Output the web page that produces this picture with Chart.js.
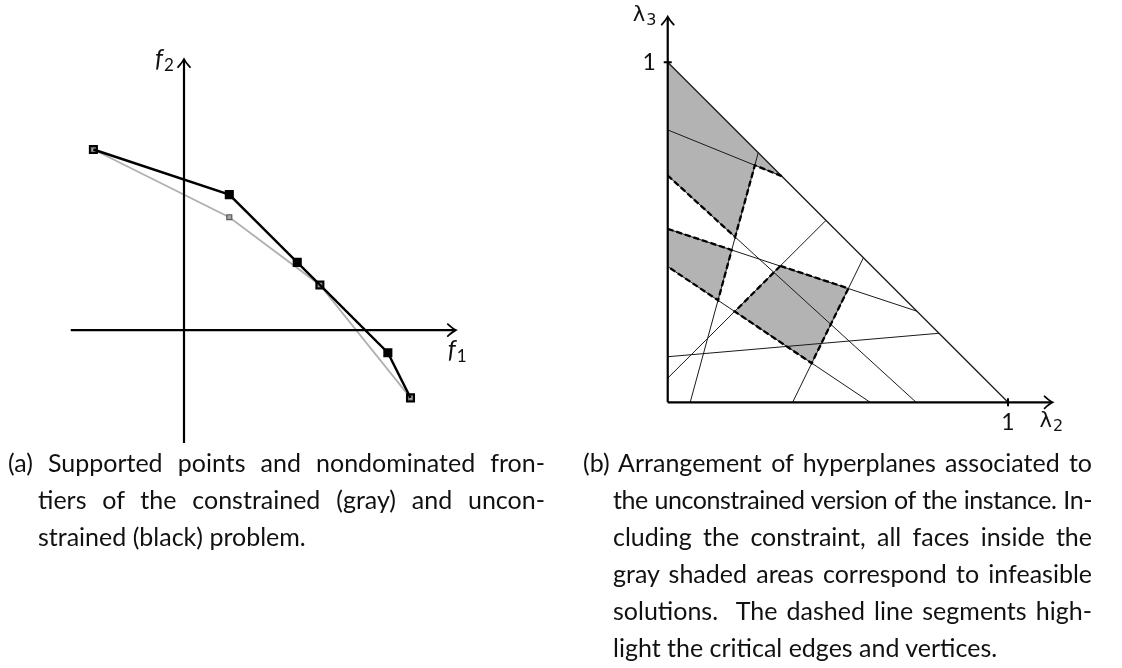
<!DOCTYPE html>
<html>
<head>
<meta charset="utf-8">
<script src="https://cdn.jsdelivr.net/npm/chart.js@4.4.1/dist/chart.umd.min.js"></script>
<style>
  html, body { margin: 0; padding: 0; background: #fff; }
  body { width: 1122px; height: 668px; position: relative; overflow: hidden; font-family: Lato, "Open Sans", sans-serif; color: #111; }
  canvas { position: absolute; top: 0; }
  #frontier { left: 0; }
  #arrangement { left: 561px; }
  .caption { position: absolute; top: 444px; font-size: 25px; line-height: 37px; }
  .caption div { text-align: justify; text-align-last: justify; }
  .caption div.last { text-align: left; text-align-last: left; }
  .caption div.tight { letter-spacing: -0.45px; word-spacing: -1px; }
  #capA { left: 8px; width: 537px; }
  #capB { left: 583px; width: 509px; }
  .caption div.rest { margin-left: 30px; }
</style>
</head>
<body>
<canvas id="frontier" width="561" height="450"></canvas>
<canvas id="arrangement" width="561" height="450"></canvas>

<div class="caption" id="capA">
  <div>(a) Supported points and nondominated fron-</div>
  <div class="rest">tiers of the constrained (gray) and uncon-</div>
  <div class="rest last">strained (black) problem.</div>
</div>
<div class="caption" id="capB">
  <div>(b) Arrangement of hyperplanes associated to</div>
  <div class="rest tight">the unconstrained version of the instance. In-</div>
  <div class="rest">cluding the constraint, all faces inside the</div>
  <div class="rest">gray shaded areas correspond to infeasible</div>
  <div class="rest">solutions. &nbsp;The dashed line segments high-</div>
  <div class="rest last">light the critical edges and vertices.</div>
</div>

<script>
// supported points of the unconstrained problem (black)
const unconF1 = [-2, 1, 2.5, 3, 4.5, 5];
const unconF2 = [4, 3, 1.5, 1, -0.5, -1.5];
// points that are also supported for the constrained problem
const sharedPoint = [true, false, false, true, false, true];
// supported points of the constrained problem (gray)
const consF1 = [-2, 1, 3, 5];
const consF2 = [4, 2.5, 1, -1.5];

// hyperplanes in the (lambda2, lambda3) simplex, clipped to the triangle
const hyperplanes = [
  [[0, 0.801], [0.335, 0.665]],
  [[0.266, 0.734], [0.066, 0]],
  [[0, 0.667], [0.730, 0]],
  [[0, 0.399], [0.595, 0]],
  [[0, 0.510], [0.732, 0.268]],
  [[0, 0.134], [0.797, 0.203]],
  [[0, 0.071], [0.465, 0.535]],
  [[0.367, 0], [0.575, 0.425]]
];
const simplexEdge = [[0, 1], [1, 0]];
const infeasibleFaces = [
  [[0, 1], [0.335, 0.665], [0.256, 0.697], [0.198, 0.486], [0, 0.667]],
  [[0, 0.510], [0.188, 0.448], [0.148, 0.300], [0, 0.399]],
  [[0.331, 0.401], [0.531, 0.335], [0.423, 0.115], [0.197, 0.267]]
];
const criticalEdges = [
  [[0.335, 0.665], [0.256, 0.697], [0.198, 0.486], [0, 0.667]],
  [[0, 0.510], [0.188, 0.448], [0.148, 0.300], [0, 0.399]],
  [[0.331, 0.401], [0.531, 0.335], [0.423, 0.115], [0.197, 0.267], [0.331, 0.401]]
];

const toPts = arr => arr.map(([x, y]) => ({ x, y }));
const zip = (xs, ys) => xs.map((x, i) => ({ x, y: ys[i] }));

function arrowHead(ctx, tx, ty, dx, dy) {
  // tikz-like open arrow tip pointing along (dx, dy)
  const nx = -dy, ny = dx;
  ctx.beginPath();
  ctx.moveTo(tx - 8 * dx + 6 * nx, ty - 8 * dy + 6 * ny);
  ctx.quadraticCurveTo(tx - 3 * dx + 1.5 * nx, ty - 3 * dy + 1.5 * ny, tx, ty);
  ctx.quadraticCurveTo(tx - 3 * dx - 1.5 * nx, ty - 3 * dy - 1.5 * ny, tx - 8 * dx - 6 * nx, ty - 8 * dy - 6 * ny);
  ctx.stroke();
}

function subLabel(ctx, main, sub, x, y, mainFont, subFont, drop) {
  ctx.textAlign = 'left';
  ctx.textBaseline = 'alphabetic';
  ctx.font = mainFont;
  ctx.fillText(main, x, y);
  const w = ctx.measureText(main).width;
  ctx.font = subFont;
  ctx.fillText(sub, x + w + 1, y + drop);
}

// axes through the origin with arrow tips, optional unit ticks and labels
const axisArrows = {
  id: 'axisArrows',
  afterDatasetsDraw(chart, args, opts) {
    const { ctx, scales: { x, y } } = chart;
    const ox = x.getPixelForValue(0), oy = y.getPixelForValue(0);
    const xs = x.getPixelForValue(opts.start), xe = x.getPixelForValue(x.max);
    const ys = y.getPixelForValue(opts.start), ye = y.getPixelForValue(y.max);
    ctx.save();
    ctx.strokeStyle = '#000';
    ctx.fillStyle = '#111';
    ctx.lineWidth = opts.width;
    ctx.lineCap = 'butt';
    ctx.beginPath();
    ctx.moveTo(xs, oy); ctx.lineTo(xe - 1, oy);
    ctx.moveTo(ox, ys); ctx.lineTo(ox, ye + 1);
    ctx.stroke();
    ctx.lineWidth = 1.8;
    ctx.lineCap = 'round';
    arrowHead(ctx, xe, oy, 1, 0);
    arrowHead(ctx, ox, ye, 0, -1);
    if (opts.unitTicks) {
      const tx = x.getPixelForValue(1), ty = y.getPixelForValue(1);
      ctx.lineWidth = 2;
      ctx.lineCap = 'butt';
      ctx.beginPath();
      ctx.moveTo(ox - 4, ty); ctx.lineTo(ox + 4, ty);
      ctx.moveTo(tx, oy - 4); ctx.lineTo(tx, oy + 4);
      ctx.stroke();
      ctx.font = '23px Lato, sans-serif';
      ctx.textAlign = 'right';
      ctx.fillText('1', ox - 12, ty + 8);
      ctx.textAlign = 'center';
      ctx.fillText('1', tx, oy + 28);
    }
    const L = opts.labels;
    subLabel(ctx, L.x[0], L.x[1], xe + L.xOff[0], oy + L.xOff[1], L.mainFont, L.subFont, 4);
    subLabel(ctx, L.y[0], L.y[1], ox + L.yOff[0], ye + L.yOff[1], L.mainFont, L.subFont, 4);
    ctx.restore();
  }
};

const baseOptions = (xr, yr, padding, axisOpts) => ({
  responsive: false,
  animation: false,
  events: [],
  layout: { padding },
  scales: {
    x: { type: 'linear', min: xr[0], max: xr[1], display: false },
    y: { type: 'linear', min: yr[0], max: yr[1], display: false }
  },
  plugins: {
    legend: { display: false },
    tooltip: { enabled: false },
    axisArrows: axisOpts
  }
});

new Chart(document.getElementById('frontier'), {
  type: 'line',
  data: {
    datasets: [
      {
        data: zip(unconF1, unconF2),
        borderColor: '#000',
        borderWidth: 2.4,
        pointStyle: 'rect',
        pointRadius: 5,
        pointBorderWidth: 2,
        pointBorderColor: '#000',
        pointBackgroundColor: sharedPoint.map(s => s ? 'rgba(0,0,0,0)' : '#000'),
        order: 0
      },
      {
        data: zip(consF1, consF2),
        borderColor: '#b0b0b0',
        borderWidth: 1.8,
        pointStyle: 'rect',
        pointRadius: 3.5,
        pointBorderWidth: 1.2,
        pointBorderColor: '#5a5a5a',
        pointBackgroundColor: '#a6a6a6',
        order: 1
      }
    ]
  },
  options: Object.assign(
    baseOptions([-2.5, 6], [-2.5, 6], { left: 70.75, right: 105.2, top: 59.2, bottom: 5.8 }, {
      start: -2.5, width: 2.2, unitTicks: false,
      labels: {
        x: ['f', '1'], y: ['f', '2'],
        xOff: [-8, 28], yOff: [-29, 8],
        mainFont: 'italic 25px Lato, sans-serif', subFont: '17px Lato, sans-serif'
      }
    }),
    { elements: { line: { tension: 0 } } }
  ),
  plugins: [axisArrows]
});

const arrangementSets = [];
criticalEdges.forEach(p => arrangementSets.push({
  data: toPts(p), borderColor: '#000', borderWidth: 2.3, borderDash: [6, 3],
  pointRadius: 0, fill: false, order: 0
}));
hyperplanes.concat([simplexEdge]).forEach((p, i) => arrangementSets.push({
  data: toPts(p), borderColor: '#1a1a1a', borderWidth: i === hyperplanes.length ? 1.3 : 1,
  pointRadius: 0, fill: false, order: 1
}));
infeasibleFaces.forEach(p => arrangementSets.push({
  data: toPts(p.concat([p[0]])), borderColor: 'rgba(0,0,0,0)', borderWidth: 0,
  backgroundColor: '#b3b3b3', pointRadius: 0, fill: 'shape', order: 2
}));

new Chart(document.getElementById('arrangement'), {
  type: 'line',
  data: { datasets: arrangementSets },
  options: baseOptions([-0.1, 1.131], [-0.1, 1.134], { left: 72.7, right: 69.4, top: 16.7, bottom: 13.7 }, {
    start: 0, width: 2.2, unitTicks: true,
    labels: {
      x: ['\u03bb', '2'], y: ['\u03bb', '3'],
      xOff: [-13, 25], yOff: [-35, 4],
      mainFont: '21px "DejaVu Sans", sans-serif', subFont: '16px "DejaVu Sans", sans-serif'
    }
  }),
  plugins: [axisArrows]
});
</script>
</body>
</html>
